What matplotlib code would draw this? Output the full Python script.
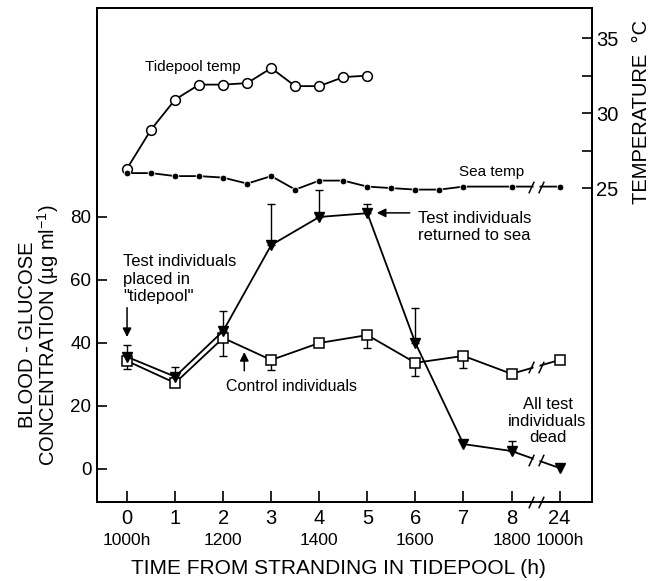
import numpy as np
import matplotlib
matplotlib.use("Agg")
import matplotlib.pyplot as plt
from matplotlib.path import Path

plt.rcParams['font.family'] = ['Liberation Sans', 'DejaVu Sans']
plt.rcParams['mathtext.fontset'] = 'custom'
plt.rcParams['mathtext.rm'] = 'Liberation Sans'
plt.rcParams['mathtext.it'] = 'Liberation Sans:italic'

# heures depuis l'echouage (24 h est apres la coupure de l'axe)
hours = [0, 1, 2, 3, 4, 5, 6, 7, 8, 24]
hour_labels = ["0", "1", "2", "3", "4", "5", "6", "7", "8", "24"]
clock_hours = [0, 2, 4, 6, 8, 24]
clock_labels = ["1000h", "1200", "1400", "1600", "1800", "1000h"]

# glycemie (ug/ml)
test_glucose = [35.6, 29.3, 43.8, 71.1, 80.0, 81.2, 40.0, 7.9, 5.7, 0.3]
test_err_up = [3.8, 3.1, 6.4, 13.0, 8.6, 2.9, 11.1, 0.0, 3.2, 0.0]
control_glucose = [34.3, 27.3, 41.6, 34.6, 40.0, 42.5, 33.7, 35.9, 30.2, 34.6]
control_err_down = [2.6, 0.0, 5.7, 3.2, 0.0, 4.1, 4.2, 3.8, 0.0, 0.0]

# temperatures (C)
tidepool_hours = [0, 0.5, 1, 1.5, 2, 2.5, 3, 3.5, 4, 4.5, 5]
tidepool_temp = [26.3, 28.9, 30.9, 31.9, 31.9, 32.0, 33.0, 31.8, 31.8, 32.4, 32.5]
sea_hours = [0, 0.5, 1, 1.5, 2, 2.5, 3, 3.5, 4, 4.5, 5, 5.5, 6, 6.5, 7, 8, 24]
sea_temp = [26.0, 26.0, 25.8, 25.8, 25.7, 25.3, 25.8, 24.9, 25.5, 25.5,
            25.1, 25.0, 24.9, 24.9, 25.1, 25.1, 25.1]

BREAK = 16  # milieu de la coupure entre 8 h et 24 h
SLASH = Path([(-1.7, -1.3), (-0.5, 1.3), (0.5, -1.3), (1.7, 1.3)],
             [Path.MOVETO, Path.LINETO, Path.MOVETO, Path.LINETO])


def forward(t):
    t = np.asarray(t, dtype=float)
    return np.where(t <= 8, t, 8 + (t - 8) / 16)


def inverse(x):
    x = np.asarray(x, dtype=float)
    return np.where(x <= 8, x, 8 + (x - 8) * 16)


def coupure(axis, y, transform=None, clip=True):
    kw = dict(clip_on=clip)
    if transform is not None:
        kw['transform'] = transform
    axis.plot([BREAK], [y], marker='s', ms=5, color='white', mec='none', zorder=5, **kw)
    axis.plot([BREAK], [y], marker=SLASH, ms=11, color='black', mew=1.1, zorder=6, **kw)


def main():
    fig = plt.figure(figsize=(6.51, 5.81), dpi=100)
    ax = fig.add_axes([0.149, 0.136, 0.760, 0.850])
    ax.set_xscale('function', functions=(forward, inverse))
    ax2 = ax.twinx()

    ax.set_xlim(-0.625, float(inverse(9.67)))
    ax.set_ylim(-10.48, 146.3)
    ax2.set_ylim(4.07, 37.0)

    # glycemie
    ax.plot(hours, control_glucose, color='black', lw=1.3, marker='s', ms=6.5,
            mfc='white', mec='black', mew=1.1, zorder=3)
    ax.plot(hours, test_glucose, color='black', lw=1.3, marker='v', ms=6.5,
            mfc='black', mec='black', zorder=4)

    tx = [h for h, e in zip(hours, test_err_up) if e > 0]
    ty = [g for g, e in zip(test_glucose, test_err_up) if e > 0]
    te = [e for e in test_err_up if e > 0]
    ax.errorbar(tx, ty, yerr=[np.zeros(len(te)), te], fmt='none', ecolor='black',
                elinewidth=1, capsize=3, capthick=1, zorder=2)
    cx = [h for h, e in zip(hours, control_err_down) if e > 0]
    cy = [g for g, e in zip(control_glucose, control_err_down) if e > 0]
    ce = [e for e in control_err_down if e > 0]
    ax.errorbar(cx, cy, yerr=[ce, np.zeros(len(ce))], fmt='none', ecolor='black',
                elinewidth=1, capsize=3, capthick=1, zorder=2)

    # temperatures
    ax2.plot(tidepool_hours, tidepool_temp, color='black', lw=1.3, marker='o', ms=7,
             mfc='white', mec='black', mew=1.1, zorder=3)
    ax2.plot(sea_hours, sea_temp, color='black', lw=1.3, marker='o', ms=4.8,
             mfc='black', mec='white', mew=0.6, zorder=3)

    # coupures
    coupure(ax, (control_glucose[-2] + control_glucose[-1]) / 2)
    coupure(ax, (test_glucose[-2] + test_glucose[-1]) / 2)
    coupure(ax2, (sea_temp[-2] + sea_temp[-1]) / 2)
    coupure(ax, 0, transform=ax.get_xaxis_transform(), clip=False)

    # axes et graduations
    ax.set_xticks(hours)
    ax.set_xticklabels(hour_labels, fontsize=14.5)
    ax.set_yticks([0, 20, 40, 60, 80])
    ax.set_yticklabels(["0", "20", "40", "60", "80"], fontsize=13.5)
    ax.tick_params(axis='x', direction='in', length=8, width=1.2, pad=5, top=False)
    ax.tick_params(axis='y', direction='in', length=7, width=1.2, pad=4, right=False)
    ax.minorticks_off()

    ax2.set_yticks([25, 30, 35])
    ax2.set_yticklabels(["25", "30", "35"], fontsize=14.5)
    ax2.set_yticks([27.5, 32.5], minor=True)
    ax2.tick_params(axis='y', which='both', direction='in', length=7, width=1.2, pad=3)

    for a in (ax, ax2):
        for s in a.spines.values():
            s.set_linewidth(1.3)

    for h, lab in zip(clock_hours, clock_labels):
        ax.text(h, -0.077, lab, transform=ax.get_xaxis_transform(), ha='center',
                va='center', fontsize=12.5)

    ax.set_xlabel("TIME FROM STRANDING IN TIDEPOOL (h)", fontsize=15, va='center')
    ax.xaxis.set_label_coords(0.487, -0.134)
    ax.set_ylabel("BLOOD - GLUCOSE\nCONCENTRATION (µg ml$^{-1}$)", fontsize=14.5,
                  linespacing=0.9, va='center')
    ax.yaxis.set_label_coords(-0.116, 0.338)
    ax2.set_ylabel("TEMPERATURE  °C", fontsize=14.5, va='center')
    ax2.yaxis.set_label_coords(1.10, 0.79)

    # annotations
    ax2.text(1.375, 33.07, "Tidepool temp", ha='center', va='center', fontsize=11)
    ax2.text(7.58, 26.07, "Sea temp", ha='center', va='center', fontsize=11)

    fleche = dict(arrowstyle='-|>', color='black', lw=1.1, mutation_scale=13)
    ax.text(-0.08, 60.3, "Test individuals\nplaced in\n\"tidepool\"", ha='left',
            va='center', fontsize=12, linespacing=1.18)
    ax.annotate("", xy=(0, 41.0), xytext=(0, 52.1), arrowprops=fleche)

    ax.text(6.06, 76.8, "Test individuals\nreturned to sea", ha='left', va='center',
            fontsize=12, linespacing=1.15)
    ax.annotate("", xy=(5.14, 81.3), xytext=(5.94, 81.3), arrowprops=fleche)

    ax.text(3.42, 26.3, "Control individuals", ha='center', va='center', fontsize=11.5)
    ax.annotate("", xy=(2.44, 38.0), xytext=(2.44, 30.3), arrowprops=fleche)

    ax.text(float(inverse(8.75)), 15.2, "All test\nindividuals\ndead", ha='center',
            va='center', fontsize=12, linespacing=1.15)

    fig.savefig("out.png", dpi=100)


if __name__ == "__main__":
    main()
